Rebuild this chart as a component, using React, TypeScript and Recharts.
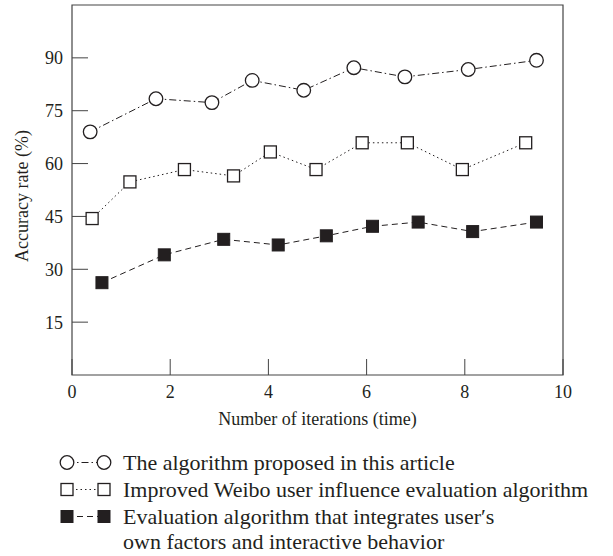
import React from 'react';
import { LineChart, Line, XAxis, YAxis, Legend, ReferenceArea } from 'recharts';

const INK = '#231f20';
const FRAME = '#444444';
const FONT = '"Liberation Serif", "Times New Roman", serif';

// tick values
const xTicks = [0, 2, 4, 6, 8, 10];
const yTicks = [15, 30, 45, 60, 75, 90];

// series values (x = iterations, y = accuracy %)
const proposedX = [0.37, 1.71, 2.85, 3.67, 4.72, 5.74, 6.78, 8.07, 9.46];
const proposedY = [69.0, 78.4, 77.3, 83.6, 80.8, 87.2, 84.6, 86.7, 89.3];

const weiboX = [0.41, 1.18, 2.29, 3.29, 4.04, 4.97, 5.91, 6.83, 7.95, 9.24];
const weiboY = [44.4, 54.8, 58.3, 56.5, 63.3, 58.3, 65.9, 65.9, 58.3, 65.9];

const integratedX = [0.61, 1.88, 3.09, 4.2, 5.18, 6.12, 7.05, 8.16, 9.46];
const integratedY = [26.2, 34.1, 38.5, 36.9, 39.5, 42.2, 43.4, 40.7, 43.4];

const legendLabels = [
  ['The algorithm proposed in this article'],
  ['Improved Weibo user influence evaluation algorithm'],
  ['Evaluation algorithm that integrates user\u2032s', 'own factors and interactive behavior'],
];

const zip = (xs: number[], ys: number[]) => xs.map((x, i) => ({ x, y: ys[i] }));

const proposedData = zip(proposedX, proposedY);
const weiboData = zip(weiboX, weiboY);
const integratedData = zip(integratedX, integratedY);

type Marker = 'circle' | 'square' | 'filled';

function drawMarker(kind: Marker, cx: number, cy: number, key?: string | number) {
  if (kind === 'circle') {
    return <circle key={key} cx={cx} cy={cy} r={6.8} fill="#fff" stroke={INK} strokeWidth={1.3} />;
  }
  if (kind === 'square') {
    return <rect key={key} x={cx - 6} y={cy - 6} width={12} height={12} fill="#fff" stroke={INK} strokeWidth={1.3} />;
  }
  return <rect key={key} x={cx - 6} y={cy - 6} width={12} height={12} fill={INK} stroke={INK} strokeWidth={1} />;
}

const dotFor = (kind: Marker) => (props: any) => drawMarker(kind, props.cx, props.cy, props.index);

const legendSeries: { marker: Marker; dash: string }[] = [
  { marker: 'circle', dash: '7 3 1.5 3' },
  { marker: 'square', dash: '1.5 3' },
  { marker: 'filled', dash: '6 4' },
];

function renderLegend() {
  return (
    <div style={{ fontFamily: FONT, fontSize: 22, color: INK, lineHeight: '27px' }}>
      {legendSeries.map((s, i) => (
        <div key={i} style={{ display: 'flex', alignItems: 'flex-start' }}>
          <svg width={65} height={27} style={{ flex: 'none' }}>
            <line x1={9} y1={13.5} x2={46} y2={13.5} stroke={INK} strokeWidth={1} strokeDasharray={s.dash} />
            {drawMarker(s.marker, 9, 13.5)}
            {drawMarker(s.marker, 46, 13.5)}
          </svg>
          <div>
            {legendLabels[i].map((t, j) => (
              <div key={j} style={{ whiteSpace: 'nowrap', lineHeight: j > 0 ? '23px' : '27px' }}>{t}</div>
            ))}
          </div>
        </div>
      ))}
    </div>
  );
}

function YLabel(props: any) {
  const vb = props.viewBox;
  const cx = vb.x + 22;
  const cy = vb.y + vb.height / 2 + 6;
  return (
    <text
      x={cx}
      y={cy}
      transform={`rotate(-90 ${cx} ${cy})`}
      textAnchor="middle"
      dominantBaseline="central"
      fill={INK}
      fontSize={18}
      fontFamily={FONT}
    >
      Accuracy rate (%)
    </text>
  );
}

export default function App() {
  return (
    <div style={{ position: 'absolute', left: 0, top: 0, background: '#fff' }}>
      <LineChart width={613} height={556} margin={{ top: 5, right: 50, left: 0, bottom: 121 }}>
        <XAxis
          dataKey="x"
          type="number"
          domain={[0, 10]}
          ticks={xTicks}
          axisLine={false}
          tickSize={-16}
          tickMargin={26}
          tickLine={{ stroke: FRAME }}
          tick={{ fill: INK, fontSize: 18, fontFamily: FONT }}
          height={60}
          label={{ value: 'Number of iterations (time)', position: 'insideBottom', offset: 10, fill: INK, fontSize: 18, fontFamily: FONT }}
        />
        <YAxis
          type="number"
          domain={[0, 105]}
          ticks={yTicks}
          axisLine={false}
          tickSize={-16}
          tickMargin={25}
          tickLine={{ stroke: FRAME }}
          tick={{ fill: INK, fontSize: 18, fontFamily: FONT }}
          width={72}
          label={{ content: YLabel }}
        />
        <ReferenceArea x1={0} x2={10} y1={0} y2={105} fill="none" stroke={FRAME} strokeWidth={1.2} />
        <Line data={proposedData} dataKey="y" stroke={INK} strokeWidth={1} strokeDasharray="7 3 1.5 3" dot={dotFor('circle')} isAnimationActive={false} />
        <Line data={weiboData} dataKey="y" stroke={INK} strokeWidth={1} strokeDasharray="1.5 3" dot={dotFor('square')} isAnimationActive={false} />
        <Line data={integratedData} dataKey="y" stroke={INK} strokeWidth={1} strokeDasharray="6 4" dot={dotFor('filled')} isAnimationActive={false} />
        <Legend
          layout="horizontal"
          verticalAlign="middle"
          align="center"
          content={renderLegend}
          wrapperStyle={{ top: 449, left: 58, width: 555, height: 'auto' }}
        />
      </LineChart>
    </div>
  );
}
